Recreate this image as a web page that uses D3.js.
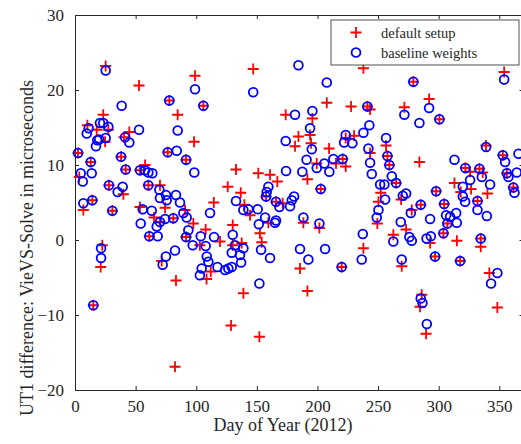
<!DOCTYPE html>
<html>
<head>
<meta charset="utf-8">
<script src="https://d3js.org/d3.v7.min.js"></script>
<style>
  body { margin: 0; background: #fff; }
  text { font-family: "Liberation Serif", "Times New Roman", serif; fill: #262626; }
</style>
</head>
<body>
<script>
// default setup (red +)
var defaultDays = [2.5, 3.5, 6.9, 10.2, 13, 14.3, 15.1, 17.9, 21.2, 22.5, 23.3, 24.8, 25.3, 27.5, 28, 30.8, 38, 39.9, 40.4, 41.8,
  44.8, 52.8, 53.6, 53.6, 57.8, 60.5, 61.3, 65.2, 70.1, 70.1, 71.5, 74.3, 76.5, 77.8, 81.1, 82.5, 83.3, 84.7, 90.8, 91.6,
  91.6, 97.6, 98.2, 99, 103, 105.9, 107.8, 108.5, 112, 114.5, 119.6, 126, 128.7, 130.1, 130.1, 132.8, 136.7, 137.5, 138.9, 139.7,
  144.4, 147, 151.2, 152.1, 152.6, 154, 157.6, 159.5, 160.9, 165.8, 166.9, 171.3, 173.8, 181.5, 184.3, 185.6, 188.4, 191.7, 191.7, 193.9,
  194.7, 195.8, 199.4, 201.6, 202.7, 207.7, 209.6, 215.3, 220, 220.8, 223.3, 223.3, 227.7, 230.2, 237.9, 237.9, 241.2, 243.4, 243.4, 249.4,
  250.3, 252.2, 256.6, 257.7, 259.3, 262.6, 264.9, 269, 269.5, 271.7, 273.1, 277.8, 279.1, 284.1, 284.6, 285.2, 286, 289.6, 292.1, 292.9,
  297, 297.9, 300.6, 303.9, 304.5, 307.2, 313, 315, 317.7, 318.2, 322, 325.9, 326.7, 332, 333.6, 334.7, 334.7, 336.3, 339, 340.2,
  341.8, 348.4, 352.9, 354, 356.2, 361.6];
var defaultValues = [11.6, 8.4, 4.0, 15.3, 10.4, 5.3, -8.7, 14.7, -3.6, -0.7, 16.7, 13.1, 23.2, 14.7, 7.3, 3.9, 11.1, 6.1, 13.7, 9.4,
  14.4, 20.6, 9.3, 4.4, 10.0, 7.3, 0.5, 3.0, 7.3, 2.4, -2.8, 4.3, 11.7, 18.6, 2.9, -16.9, -5.4, 16.7, 4.0, 10.7,
  0.4, 2.2, 13.1, 21.9, -0.7, 17.9, 1.4, -5.2, -4.2, 5.0, -0.2, 7.1, -11.4, 2.0, -0.7, 9.4, 6.3, -0.4, -7.1, 4.7,
  3.3, 22.8, 8.9, -12.9, 0.9, -0.3, 5.8, 2.3, 8.7, 5.1, 7.8, 4.9, 16.7, 12.5, 13.8, -3.8, 2.3, 8.1, -6.8, 14.0,
  12.9, 16.2, 10.2, 1.6, 6.8, 18.3, 12.2, 10.2, -3.6, 10.8, 9.8, 13.6, 17.8, 13.9, 22.9, -1.1, 17.8, 17.4, 11.6, 2.2,
  5.1, 6.3, 12.6, 11.2, 10.0, 0.7, 7.6, 5.4, -3.5, 17.7, 1.4, 4.0, 21.1, 10.4, -8.9, 4.7, -7.3, -12.5, 18.8, -0.4,
  -2.2, 6.5, 16.1, 0.9, 4.8, 2.2, 7.6, -0.1, -2.8, 6.4, 9.6, 9.1, 6.8, 5.2, 9.5, 0.2, -0.9, 9.0, 12.6, 6.2,
  -4.4, -9.0, 11.3, 22.4, 8.9, 7.0];

// baseline weights (blue o)
var baselineDays = [2.5, 4.7, 6.4, 6.9, 9.7, 11.3, 13, 13.8, 14.3, 15.1, 17.3, 18.4, 20, 20.6, 21.5, 21.5, 23.3, 25.3, 25.3, 27.5,
  28, 30.8, 35.2, 38, 38.5, 39.3, 41.3, 41.8, 44.8, 52.8, 53.6, 54.2, 55.8, 57.8, 60.5, 60.5, 61.3, 63.3, 63.8, 67.4,
  68.2, 69.6, 70.1, 70.1, 72.3, 74.3, 75, 75, 75.6, 76.5, 77.8, 81.1, 82.5, 83.3, 83.9, 84.7, 86.6, 89.4, 91.6, 91.6,
  92.1, 93.5, 97.1, 98.4, 99, 103, 103.7, 104.5, 105.9, 107.8, 108.7, 110, 111.4, 114.7, 117.5, 123.8, 126.5, 129.3, 129.3, 130.1,
  132, 132.8, 136.1, 137, 138.9, 138.9, 143, 147, 150.7, 151.6, 152.1, 153.5, 156.8, 157.6, 158.1, 159.5, 160.9, 165, 165.8, 165.8,
  168.6, 173.8, 174.1, 177.4, 178.8, 180.7, 181.5, 184.3, 185.6, 187.5, 188.4, 191, 192.5, 193.9, 195.3, 195.8, 199.4, 201.6, 202.7, 205.7,
  206.3, 207.7, 209.8, 213.1, 220, 220.8, 222, 223.3, 228.8, 236.5, 237.4, 237.9, 241.2, 242, 242.8, 243.4, 244.8, 248.9, 250.3, 251.7,
  255.2, 255.8, 256.6, 257.7, 259.3, 261.3, 262.6, 264.9, 268.7, 269.5, 270.4, 271.7, 273.1, 275.8, 277, 277.8, 279.1, 284.1, 285.2, 285.2,
  286.6, 290, 290.2, 292.1, 292.9, 293.5, 297, 297.9, 300.6, 303.9, 304.5, 306.1, 307.2, 309.4, 313, 314.4, 314.9, 317.7, 319.9, 319.9,
  321.8, 322, 325.9, 332, 332, 333.6, 334.7, 335.6, 339.1, 339.7, 342.4, 343.2, 348.4, 352.9, 354, 354.8, 356.2, 357.5, 361.6, 362.5,
  364.4, 365.8];
var baselineValues = [11.6, 8.9, 7.8, 4.9, 14.2, 14.9, 10.4, 8.9, 5.3, -8.7, 12.5, 13.3, 13.4, 15.6, -1.1, -2.4, 15.6, 13.6, 22.6, 15.1,
  7.3, 3.9, 6.4, 11.1, 17.9, 7.1, 13.7, 9.4, 13.0, 14.7, 9.3, 2.2, 4.1, 9.3, 9.0, 7.3, 0.5, 3.9, 8.9, 1.8,
  0.5, 6.7, 5.6, 2.4, -3.3, 2.8, 6.0, -2.2, 5.3, 11.7, 18.6, 2.9, -1.4, 6.0, 11.9, 14.6, 5.0, 3.6, 10.7, 0.4,
  3.0, 1.3, -0.7, 9.0, 20.1, -4.7, 0.5, -3.8, 17.9, -0.8, -2.2, -2.9, 3.6, 0.4, -3.6, -4.0, -3.8, -3.6, -1.7, 0.7,
  -0.7, 5.2, -2.0, -3.0, -1.1, 4.0, 4.1, 19.7, 4.1, 2.1, -5.8, -1.3, 3.0, 5.8, 6.4, 7.1, -2.4, 2.3, 5.1, 2.6,
  4.4, 13.2, 9.2, 4.5, 5.3, 5.8, 16.7, 23.3, -1.2, 9.1, 3.0, 10.7, -2.6, 14.9, 12.1, 17.2, 9.6, 2.2, 6.8, 10.2,
  -1.2, 21.0, 9.1, 10.8, -3.6, 10.8, 13.0, 14.0, 12.9, -2.6, 0.8, 14.3, 17.8, 12.2, 15.3, 10.3, 8.8, 3.0, 4.0, 7.4,
  7.4, 5.4, 13.6, 11.2, 10.0, 8.5, -0.2, 7.6, 2.4, -2.6, 5.9, 16.7, 6.2, 0.4, 3.6, -0.1, 21.1, 15.6, 4.7, -7.8,
  -8.4, 0.2, -11.2, 17.6, 2.8, 0.5, -2.2, 6.5, 16.1, 0.9, 4.8, 3.3, 2.2, 3.1, 10.7, 3.6, 2.3, -2.8, 7.1, 5.8,
  5.1, 9.6, 8.0, 5.2, 4.0, 9.5, 0.2, 8.4, 12.4, 3.2, 7.4, -5.8, -4.4, 11.3, 21.4, 10.4, 8.9, 8.4, 7.0, 6.3,
  9.0, 11.5];

var xTicks = [0, 50, 100, 150, 200, 250, 300, 350];
var yTicks = [-20, -10, 0, 10, 20, 30];
var seriesNames = ["default setup", "baseline weights"];

var W = 521, H = 444;
var svg = d3.select("body").append("svg").attr("width", W).attr("height", H);

var x = d3.scaleLinear().domain([0, 370]).range([75, 75 + 370 * 1.2123]);
var y = d3.scaleLinear().domain([-20, 30]).range([390, 15]);

var axisColor = "#262626";

// axes, ticks inside
var gx = svg.append("g").attr("transform", "translate(0,390)")
  .call(d3.axisBottom(x).tickValues(xTicks).tickSizeInner(-4).tickSizeOuter(0).tickPadding(10));
var gxt = svg.append("g").attr("transform", "translate(0,15)")
  .call(d3.axisTop(x).tickValues(xTicks).tickSizeInner(-4).tickSizeOuter(0).tickFormat(""));
var gy = svg.append("g").attr("transform", "translate(75,0)")
  .call(d3.axisLeft(y).tickValues(yTicks).tickSizeInner(-4).tickSizeOuter(0).tickPadding(10));
var gyr = svg.append("g").attr("transform", "translate(" + x(370) + ",0)")
  .call(d3.axisRight(y).tickValues(yTicks).tickSizeInner(-4).tickSizeOuter(0).tickFormat(""));

[gx, gxt, gy, gyr].forEach(function (g) {
  g.select(".domain").attr("stroke", axisColor);
  g.selectAll(".tick line").attr("stroke", axisColor);
  g.selectAll(".tick text").style("font-family", "Liberation Serif").style("font-size", "17px").attr("fill", axisColor);
});
gy.selectAll(".tick text").attr("dx", "-1");

// markers
var redPts = defaultDays.map(function (d, i) { return [d, defaultValues[i]]; });
var bluePts = baselineDays.map(function (d, i) { return [d, baselineValues[i]]; });
var s = 5.5;

svg.append("g").selectAll("path").data(redPts).enter().append("path")
  .attr("d", function (p) {
    var cx = x(p[0]), cy = y(p[1]);
    return "M" + (cx - s) + "," + cy + "H" + (cx + s) + "M" + cx + "," + (cy - s) + "V" + (cy + s);
  })
  .attr("stroke", "#ff0000").attr("stroke-width", 1.8).attr("fill", "none");

svg.append("g").selectAll("circle").data(bluePts).enter().append("circle")
  .attr("cx", function (p) { return x(p[0]); })
  .attr("cy", function (p) { return y(p[1]); })
  .attr("r", 4.4)
  .attr("stroke", "#0000ff").attr("stroke-width", 1.8).attr("fill", "none");

// legend
var lg = svg.append("g");
lg.append("rect").attr("x", 331).attr("y", 20).attr("width", 188).attr("height", 45)
  .attr("fill", "#fff").attr("stroke", axisColor).attr("stroke-width", 0.8);
lg.append("path").attr("d", "M350.5,32.5H361.5M356,27V38").attr("stroke", "#ff0000").attr("stroke-width", 1.8);
lg.append("circle").attr("cx", 356).attr("cy", 52.5).attr("r", 4.4).attr("stroke", "#0000ff").attr("stroke-width", 1.8).attr("fill", "none");
lg.selectAll("text").data(seriesNames).enter().append("text")
  .attr("x", 381).attr("y", function (d, i) { return 37.5 + i * 20; })
  .style("font-size", "14.5px").text(function (d) { return d; });

// labels
svg.append("text").attr("x", 283).attr("y", 431).attr("text-anchor", "middle")
  .style("font-size", "18px").text("Day of Year (2012)");
svg.append("text").attr("transform", "translate(33,248) rotate(-90)").attr("text-anchor", "middle")
  .style("font-size", "18px").text("UT1 difference: VieVS-Solve in microseconds");
</script>
</body>
</html>
